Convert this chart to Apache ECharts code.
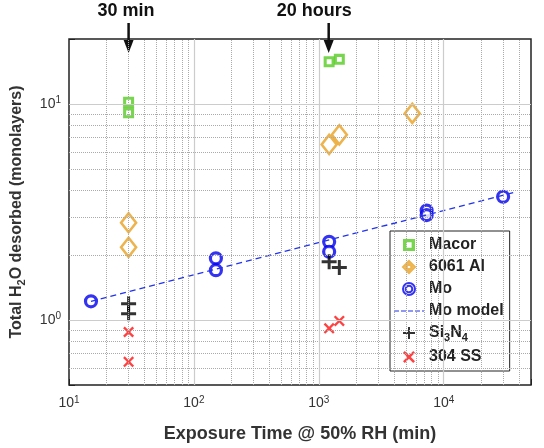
<!DOCTYPE html><html><head><meta charset="utf-8">
<script src="https://cdn.jsdelivr.net/npm/echarts@6/dist/echarts.min.js"></script>
<style>html,body{margin:0;padding:0;background:#fff}#c{width:544px;height:448px}</style></head><body><div id="c"></div>
<script>
const macor=[[30,10.2],[30,9.1],[1210,15.7],[1460,16.1]];
const al=[[30,2.82],[30,2.17],[1210,6.5],[1460,7.2],[5600,9.05]];
const mo=[[15,1.22],[150,1.93],[150,1.70],[1210,2.30],[1210,2.07],[7300,3.21],[7300,3.06],[29900,3.72]];
const moModel=[[15,1.22],[36000,3.89]];
const si=[[30,1.19],[30,1.07],[1210,1.86],[1460,1.75]];
const ss=[[30,0.88],[30,0.64],[1210,0.915],[1460,0.99]];
const xMajor=[100,1000,10000];
const yMajor=[1,10];
const xMinor=[20,30,40,50,60,70,80,90,200,300,400,500,600,700,800,900,2000,3000,4000,5000,6000,7000,8000,9000,20000,30000,40000];
const yMinor=[0.6,0.7,0.8,0.9,2,3,4,5,6,7,8,9];
const F='Arial, "Liberation Sans", sans-serif';
const sup={fontSize:10,verticalAlign:'top',padding:[0,0,7,0],color:'#333',fontFamily:F};
function pow(v){const e=Math.round(Math.log10(v));return '10{s|'+e+'}';}
const gridLines=[].concat(
 xMinor.map(v=>({xAxis:v,lineStyle:{color:'#aaa',type:'dotted',width:1}})),
 yMinor.map(v=>({yAxis:v,lineStyle:{color:'#aaa',type:'dotted',width:1}})),
 xMajor.map(v=>({xAxis:v,lineStyle:{color:'#ccc',type:'solid',width:1.2}})),
 yMajor.map(v=>({yAxis:v,lineStyle:{color:'#ccc',type:'solid',width:1.2}})));
const ch=echarts.init(document.getElementById('c'));
const sq='path://M0,0H10V10H0Z M2.8,2.8V7.2H7.2V2.8Z';
const plus='path://M4,0H6V4H10V6H6V10H4V6H0V4H4Z';
const cross='path://M1.5,0L5,3.5L8.5,0L10,1.5L6.5,5L10,8.5L8.5,10L5,6.5L1.5,10L0,8.5L3.5,5L0,1.5Z';
const dash='path://M0,4.5H5V5.5H0Z M7,4.5H12V5.5H7Z M14,4.5H19V5.5H14Z M21,4.5H26V5.5H21Z M28,4.5H30V5.5H28Z';
ch.setOption({animation:false,
grid:{left:69,right:13,top:39,bottom:63,show:true,borderColor:'#222',borderWidth:1.5},
xAxis:{type:'log',min:10,max:50000,logBase:10,splitLine:{show:false},
 axisLine:{show:false},axisTick:{inside:true,length:6,lineStyle:{color:'#222'}},
 axisLabel:{formatter:v=>[10,100,1000,10000].includes(Math.round(v))?pow(v):'',rich:{s:sup},color:'#333',fontFamily:F,fontSize:14,margin:10},
 name:'Exposure Time @ 50% RH (min)',nameLocation:'middle',nameGap:40,nameTextStyle:{fontFamily:F,fontWeight:'bold',fontSize:18,color:'#333'}},
yAxis:{type:'log',min:0.5,max:20,logBase:10,splitLine:{show:false},
 axisLine:{show:false},axisTick:{inside:true,length:6,lineStyle:{color:'#222'}},
 axisLabel:{formatter:v=>{const r=Math.round(v*100)/100;return (r===1||r===10)?pow(r):'';},rich:{s:sup},color:'#333',fontFamily:F,fontSize:14},
 name:'Total H{b|2}O desorbed (monolayers)',nameLocation:'middle',nameGap:42,
 nameTextStyle:{fontFamily:F,fontWeight:'bold',fontSize:16,color:'#333',rich:{b:{fontSize:11,fontWeight:'bold',verticalAlign:'bottom',padding:[9,0,0,0],color:'#333'}}}},
legend:{orient:'vertical',left:390,top:231,itemGap:6,itemWidth:30,itemHeight:12,
 backgroundColor:'#fff',borderColor:'#222',borderWidth:1,padding:[6,6,6,4],
 textStyle:{fontFamily:F,fontWeight:'bold',fontSize:16,color:'#222',rich:{sub:{fontSize:11,fontWeight:'bold',verticalAlign:'bottom',padding:[9,0,0,0],color:'#222'}}},
 formatter:n=>n==='Si3N4'?'Si{sub|3}N{sub|4}':n,
 data:[{name:'Macor',icon:'path://M10,0H20V10H10Z M12.8,2.8V7.2H17.2V2.8Z'},
  {name:'6061 Al',icon:'path://M15,0L21,6L15,12L9,6Z M15,3L12,6L15,9L18,6Z'},
  {name:'Mo',icon:'path://M15,0A6,6 0 1 1 14.99,0Z M15,2.7A3.3,3.3 0 1 0 15.01,2.7Z'},
  {name:'Mo model',icon:dash},
  {name:'Si3N4',icon:'path://M14,0H16V5H21V7H16V12H14V7H9V5H14Z'},
  {name:'304 SS',icon:'path://M11.5,0L15,3.5L18.5,0L20,1.5L16.5,5L20,8.5L18.5,10L15,6.5L11.5,10L10,8.5L13.5,5L10,1.5Z'}]},
series:[
 {type:'line',data:[],silent:true,markLine:{silent:true,symbol:'none',label:{show:false},data:gridLines}},
 {name:'Mo model',type:'line',data:moModel,showSymbol:false,symbol:'none',lineStyle:{color:'#2233ee',type:[6,4],width:1.3},itemStyle:{color:'#2233ee'}},
 {name:'Macor',type:'scatter',data:macor,symbol:sq,symbolSize:11,itemStyle:{color:'#55cc22'}},
 {name:'6061 Al',type:'scatter',data:al,symbol:'diamond',symbolSize:[15,19],itemStyle:{color:'#fff',borderColor:'#e8a020',borderWidth:2.6}},
 {name:'Mo',type:'scatter',data:mo,symbol:'circle',symbolSize:11,itemStyle:{color:'#fff',borderColor:'#0000ee',borderWidth:3.2}},
 {name:'Si3N4',type:'scatter',data:si,symbol:plus,symbolSize:15,itemStyle:{color:'#000'}},
 {name:'304 SS',type:'scatter',data:ss,symbol:cross,symbolSize:11,itemStyle:{color:'#ff1111'}}
]});
const p30=ch.convertToPixel({xAxisIndex:0},30), p20=ch.convertToPixel({xAxisIndex:0},1200);
function arrow(x){return [{type:'line',shape:{x1:x,y1:23,x2:x,y2:43},style:{stroke:'#111',lineWidth:2.5}},
 {type:'polygon',shape:{points:[[x-5,40],[x+5,40],[x,53]]},style:{fill:'#111'}}];}
ch.setOption({graphic:[
 {type:'text',left:p30-31,top:2,style:{text:'30 min',font:'bold 18px '+F,fill:'#111'}},
 {type:'text',left:p20-52,top:2,style:{text:'20 hours',font:'bold 18px '+F,fill:'#111'}},
 ...arrow(p30),...arrow(p20)]});
</script></body></html>
